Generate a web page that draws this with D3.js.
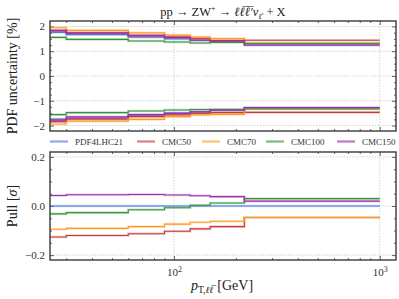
<!DOCTYPE html>
<html><head><meta charset="utf-8">
<script src="https://cdn.jsdelivr.net/npm/d3@7"></script>
<style>
body{margin:0;background:#fff;}
svg{display:block;font-family:"Liberation Serif","DejaVu Serif",serif;}
</style></head>
<body><svg id="c" width="399" height="299"></svg>
<script>
// ---- data ----
const binEdges = [25, 30, 60, 90, 120, 150, 220, 1000];
const seriesNames = ["PDF4LHC21", "CMC50", "CMC70", "CMC100", "CMC150"];
const seriesColors = ["#4f7fe0", "#c83a3a", "#ff9a1f", "#3a923a", "#9b2fa8"];

const upPDF4LHC21 = [1.76, 1.67, 1.57, 1.50, 1.45, 1.40, 1.28];
const upCMC50     = [1.82, 1.73, 1.62, 1.58, 1.52, 1.40, 1.44];
const upCMC70     = [1.95, 1.84, 1.74, 1.65, 1.57, 1.51, 1.31];
const upCMC100    = [1.56, 1.48, 1.41, 1.37, 1.33, 1.35, 1.32];
const upCMC150    = [1.84, 1.74, 1.64, 1.55, 1.44, 1.43, 1.24];

const loPDF4LHC21 = [-1.74, -1.70, -1.58, -1.50, -1.45, -1.38, -1.29];
const loCMC50     = [-1.84, -1.74, -1.64, -1.57, -1.51, -1.48, -1.47];
const loCMC70     = [-1.94, -1.82, -1.75, -1.64, -1.57, -1.55, -1.31];
const loCMC100    = [-1.56, -1.48, -1.41, -1.37, -1.35, -1.34, -1.33];
const loCMC150    = [-1.78, -1.65, -1.56, -1.51, -1.44, -1.38, -1.27];

const pullPDF4LHC21 = [0, 0, 0, 0, 0, 0, 0];
const pullCMC50     = [-0.126, -0.120, -0.113, -0.103, -0.093, -0.084, -0.047];
const pullCMC70     = [-0.095, -0.091, -0.084, -0.074, -0.066, -0.062, -0.047];
const pullCMC100    = [-0.032, -0.027, -0.015, -0.007, 0.003, 0.012, 0.030];
const pullCMC150    = [0.043, 0.046, 0.047, 0.045, 0.042, 0.038, 0.020];

const topTicks = [-2, -1, 0, 1, 2];
const botTicks = [-0.2, 0.0, 0.2];
const xMajor = [100, 1000];
const xMinor = [30, 40, 50, 60, 70, 80, 90, 200, 300, 400, 500, 600, 700, 800, 900];

const upper = [upPDF4LHC21, upCMC50, upCMC70, upCMC100, upCMC150];
const lower = [loPDF4LHC21, loCMC50, loCMC70, loCMC100, loCMC150];
const pulls = [pullPDF4LHC21, pullCMC50, pullCMC70, pullCMC100, pullCMC150];

// ---- layout ----
const svg = d3.select("#c");
const L = 50, R = 396;
const x = d3.scaleLog().domain([25, 1200]).range([L, R]);
const yT = d3.scaleLinear().domain([-2.22, 2.22]).range([131, 21]);
const yB = d3.scaleLinear().domain([-0.22, 0.22]).range([260, 152]);
const frameCol = "#3a3a3a", txtCol = "#333";
const minus = s => s.replace("-", "\u2212");

function panel(y, id, majors, minorStep, fmt, showX) {
  const [y0, y1] = y.range();
  const g = svg.append("g");
  svg.append("clipPath").attr("id", id).append("rect")
    .attr("x", L).attr("y", y1).attr("width", R - L).attr("height", y0 - y1);
  g.selectAll(".gy").data(majors).join("line")
    .attr("x1", L).attr("x2", R).attr("y1", d => y(d)).attr("y2", d => y(d))
    .attr("stroke", "#bdbdbd").attr("stroke-width", 0.8).attr("stroke-dasharray", "1.2,1.6");
  g.selectAll(".gx").data(xMajor).join("line")
    .attr("x1", d => x(d)).attr("x2", d => x(d)).attr("y1", y1).attr("y2", y0)
    .attr("stroke", "#bdbdbd").attr("stroke-width", 0.8).attr("stroke-dasharray", "1.2,1.6");
  const dom = y.domain();
  const minors = d3.range(Math.ceil(dom[0] / minorStep), Math.floor(dom[1] / minorStep) + 1)
    .map(k => k * minorStep).filter(v => !majors.some(m => Math.abs(m - v) < 1e-9));
  const axL = svg.append("g").attr("transform", `translate(${L},0)`)
    .call(d3.axisLeft(y).tickValues(majors).tickSize(-4).tickPadding(5).tickFormat(fmt));
  svg.append("g").attr("transform", `translate(${L},0)`)
    .call(d3.axisLeft(y).tickValues(minors).tickSize(-2).tickFormat(""));
  svg.append("g").attr("transform", `translate(${R},0)`)
    .call(d3.axisRight(y).tickValues(majors).tickSize(-4).tickFormat(""));
  svg.append("g").attr("transform", `translate(${R},0)`)
    .call(d3.axisRight(y).tickValues(minors).tickSize(-2).tickFormat(""));
  const axB = svg.append("g").attr("transform", `translate(0,${y0})`)
    .call(d3.axisBottom(x).tickValues(xMajor).tickSize(-4).tickPadding(6).tickFormat(""));
  svg.append("g").attr("transform", `translate(0,${y0})`)
    .call(d3.axisBottom(x).tickValues(xMinor).tickSize(-2).tickFormat(""));
  svg.append("g").attr("transform", `translate(0,${y1})`)
    .call(d3.axisTop(x).tickValues(xMajor).tickSize(-4).tickFormat(""));
  svg.append("g").attr("transform", `translate(0,${y1})`)
    .call(d3.axisTop(x).tickValues(xMinor).tickSize(-2).tickFormat(""));
  svg.selectAll(".domain").attr("stroke", "none");
  svg.selectAll(".tick line").attr("stroke", frameCol).attr("stroke-width", 0.8);
  axL.selectAll("text").attr("font-size", 11).attr("fill", txtCol)
    .attr("font-family", "Liberation Serif, serif");
  if (showX) {
    axB.selectAll(".tick").each(function(d) {
      const t = d3.select(this).select("text").attr("font-size", 11).attr("fill", txtCol)
        .attr("font-family", "Liberation Serif, serif").text(null).attr("dy", "0.9em");
      t.append("tspan").text("10");
      t.append("tspan").attr("font-size", 8).attr("dy", "-0.45em").text(String(Math.round(Math.log10(d))));
    });
  }
}

panel(yT, "clipT", topTicks, 0.25, d => minus(String(d)), false);
panel(yB, "clipB", botTicks, 0.05, d => minus(d3.format(".1f")(d).replace("\u2212", "-")), true);

function stepPts(vals) {
  const pts = vals.map((v, i) => [binEdges[i], v]);
  pts.push([binEdges[binEdges.length - 1], vals[vals.length - 1]]);
  return pts;
}
function drawAll(y, clip, arrs) {
  const line = d3.line().x(d => x(d[0])).y(d => y(d[1])).curve(d3.curveStepAfter);
  const g = svg.append("g").attr("clip-path", `url(#${clip})`);
  arrs.forEach(([vals, ci]) => {
    g.append("path").attr("d", line(stepPts(vals))).attr("fill", "none")
      .attr("stroke", seriesColors[ci]).attr("stroke-opacity", 0.25).attr("stroke-width", 2.6);
    g.append("path").attr("d", line(stepPts(vals))).attr("fill", "none")
      .attr("stroke", seriesColors[ci]).attr("stroke-width", 1.1);
  });
}
const topArr = [];
seriesNames.forEach((n, i) => { topArr.push([upper[i], i]); topArr.push([lower[i], i]); });
drawAll(yT, "clipT", topArr);
drawAll(yB, "clipB", pulls.map((p, i) => [p, i]));

// frames
[yT, yB].forEach(y => {
  const [y0, y1] = y.range();
  svg.append("rect").attr("x", L).attr("y", y1).attr("width", R - L).attr("height", y0 - y1)
    .attr("fill", "none").attr("stroke", frameCol).attr("stroke-width", 1.4);
});

// legend
const legX = [50, 137, 202, 266, 337];
seriesNames.forEach((n, i) => {
  svg.append("line").attr("x1", legX[i]).attr("x2", legX[i] + 18).attr("y1", 141.5).attr("y2", 141.5)
    .attr("stroke", seriesColors[i]).attr("stroke-opacity", 0.65).attr("stroke-width", 2.2);
  svg.append("text").attr("x", legX[i] + 25).attr("y", 144.6).attr("font-size", 9)
    .attr("fill", txtCol).text(n);
});

// title
const title = svg.append("text").attr("x", 223).attr("y", 16).attr("text-anchor", "middle")
  .attr("font-size", 12.5).attr("fill", "#222");
title.append("tspan").text("pp \u2192 ZW");
title.append("tspan").attr("font-size", 8).attr("dy", -5).text("+");
title.append("tspan").attr("dy", 5).text(" \u2192 ");
title.append("tspan").attr("font-style", "italic").text("\u2113\u2113\u0305\u2113\u0305\u2032\u03BD");
title.append("tspan").attr("font-size", 8).attr("dy", 3).attr("font-style", "italic").text("\u2113\u2032");
title.append("tspan").attr("dy", -3).text(" + X");

// y labels
svg.append("text").attr("transform", "translate(17,76) rotate(-90)").attr("text-anchor", "middle")
  .attr("font-size", 14).attr("fill", "#222").text("PDF uncertainty [%]");
const pl = svg.append("text").attr("transform", "translate(17,206) rotate(-90)").attr("text-anchor", "middle")
  .attr("font-size", 14).attr("fill", "#222");
pl.append("tspan").text("Pull [");
pl.append("tspan").attr("font-style", "italic").text("\u03C3");
pl.append("tspan").text("]");

// x label
const xl = svg.append("text").attr("x", 222).attr("y", 290).attr("text-anchor", "middle")
  .attr("font-size", 14).attr("fill", "#222");
xl.append("tspan").attr("font-style", "italic").text("p");
xl.append("tspan").attr("font-size", 9.5).attr("dy", 3).text("T,");
xl.append("tspan").attr("font-size", 9.5).attr("font-style", "italic").text("\u2113\u2113\u0305");
xl.append("tspan").attr("dy", -3).attr("dx", 4).text("[GeV]");
</script></body></html>
